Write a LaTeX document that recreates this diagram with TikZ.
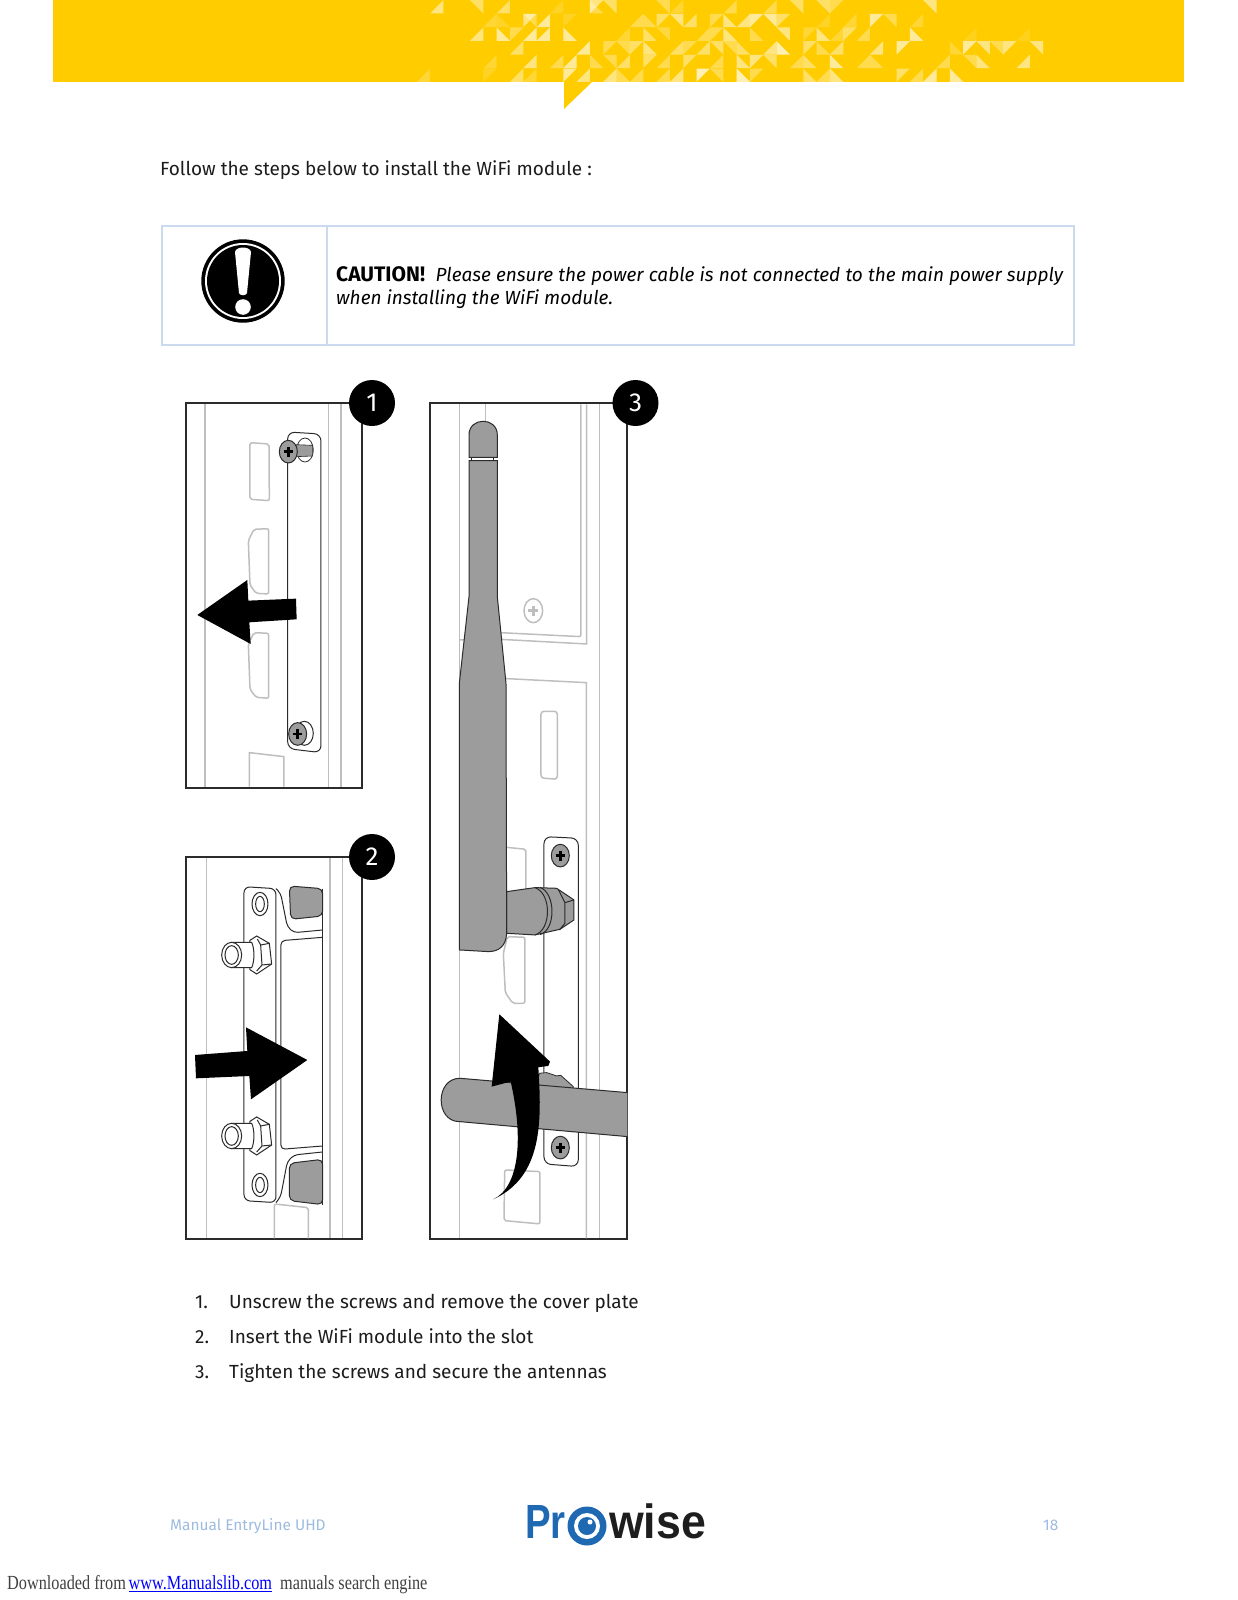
\documentclass[tikz,border=0pt]{standalone}
\usepackage{xcolor}
\usepackage{fontspec}
\setmainfont{Fira Sans}
\newfontfamily\logofont{Liberation Sans}
\newfontfamily\footfont{Liberation Serif}
\usetikzlibrary{positioning,calc}
\definecolor{bandyellow}{HTML}{FFCC00}
\definecolor{tablerule}{HTML}{CBDAEE}
\definecolor{footblue}{HTML}{9DBBE0}
\definecolor{logoblue}{HTML}{1F69B3}
\definecolor{logoink}{HTML}{1E1E1E}
\definecolor{ink}{HTML}{1C1C1C}
\definecolor{outline}{HTML}{2B2B2B}
\definecolor{backline}{HTML}{BEBEBE}
\definecolor{partgray}{HTML}{9C9C9C}
\definecolor{linkblue}{HTML}{0000FF}
\tikzset{
  bodytext/.style={anchor=base west,inner sep=0pt,text=ink,font=\fontsize{19}{22.5}\selectfont},
  foottext/.style={anchor=base west,inner sep=0pt,text=footblue,font=\fontsize{15.4}{18}\selectfont},
  logotext/.style={anchor=base west,inner sep=0pt,font=\logofont\bfseries\fontsize{48}{48}\selectfont},
  panelframe/.style={rectangle,draw=outline,line width=1.3pt,minimum width=#1,inner sep=0pt,outer sep=0pt},
  badge/.style={circle,fill=black,text=white,minimum size=46pt,inner sep=0pt,font=\fontsize{26}{26}\selectfont},
  backpart/.style={draw=backline,line width=1.5pt},
  frontpart/.style={draw=outline,line width=1pt},
  graypart/.style={draw=outline,line width=1pt,fill=partgray},
  bigarrow/.style={fill=black},
}
\newcommand{\drawscrew}[2]{
  \filldraw[graypart] (#1,#2) ellipse (27 and 34);
  \draw[line width=2.4pt,black] (#1-14,#2) -- (#1+14,#2) (#1,#2-15) -- (#1,#2+15);
}
\newcommand{\drawconnector}[1]{
  \filldraw[fill=white,draw=outline,line width=1pt] (240,#1-44) -- (260,#1-57) -- (298,#1-35) -- (305,#1+27) -- (260,#1+57) -- (240,#1+44) -- cycle;
  \draw[frontpart] (262,#1-48) -- (272,#1-30) -- (276,#1+30) -- (260,#1+48) (272,#1-30) -- (298,#1-35) (276,#1+30) -- (305,#1+27);
  \filldraw[fill=white,draw=outline,line width=1pt] (185,#1-38) -- (245,#1-38) .. controls (254,#1-20) and (254,#1+20) .. (245,#1+38) -- (185,#1+38) -- cycle;
  \filldraw[fill=white,draw=outline,line width=1pt] (185,#1) ellipse (30 and 38);
  \draw[frontpart] (185,#1) ellipse (20 and 28);
}
\begin{document}
\begin{tikzpicture}[x=1pt,y=-1pt]
  \useasboundingbox (0,0) rectangle (1237,1600);

  \fill[bandyellow] (53,0) rectangle (1184,82);
  \fill[bandyellow] (564,82) -- (592,82) -- (564,109) -- cycle;
  \foreach \col/\row/\ang/\op in {
    0/0/0/.5,3/0/90/.4,5/0/0/.4,9/0/0/.15,12/0/180/.5,12/0/270/.3,13/0/90/.4,17/0/90/.3,18/0/0/.2,22/0/0/.3,
    4/1/0/.2,5/1/270/.15,7/1/180/.5,7/1/90/.3,8/1/0/.6,10/1/180/.15,15/1/0/.3,16/1/270/.3,17/1/180/.4,18/1/90/.5,19/1/0/.4,21/1/180/.3,22/1/270/.5,
    3/2/0/.5,5/2/270/.6,6/2/180/.3,7/2/0/.6,8/2/0/.6,10/2/270/.6,14/2/0/.2,16/2/270/.4,17/2/90/.25,20/2/0/.3,21/2/180/.3,22/2/270/.5,
    6/3/0/.4,11/3/0/.6,13/3/180/.3,14/3/90/.3,15/3/180/.4,16/3/270/.5,18/3/0/.4,19/3/180/.3,20/3/0/.4,21/3/90/.4,22/3/90/.3,
    4/4/0/.2,7/4/0/.5,9/4/0/.3,10/4/0/.6,12/4/270/.3,13/4/90/.3,14/4/0/.4,16/4/180/.4,17/4/0/.3,19/4/180/.4,21/4/0/.3,23/4/270/.5,
    -1/5/0/.2,4/5/180/.15,6/5/0/.4,7/5/0/.2,10/5/180/.6,11/5/0/.5,13/5/0/.5,14/5/270/.3,15/5/0/.3,17/5/0/.3,18/5/0/.5,20/5/180/.7,21/5/90/.3,23/5/270/.4,
    25/0/0/.3,27/0/90/.4,29/0/90/.4,30/0/180/.3,37/0/90/.5,
    23/1/0/.5,24/1/180/.6,25/1/90/.6,26/1/180/.4,29/1/0/.15,31/1/0/.2,33/1/180/.6,34/1/90/.3,36/1/0/.2,
    24/2/270/.3,26/2/90/.5,28/2/180/.2,29/2/270/.5,30/2/0/.2,31/2/180/.4,32/2/0/.3,36/2/270/.6,40/2/0/.1,44/2/0/.1,
    23/3/270/.4,25/3/0/.5,26/3/270/.7,28/3/180/.4,29/3/270/.3,30/3/0/.4,33/3/0/.5,35/3/180/.6,39/3/270/.2,40/3/180/.6,41/3/90/.5,42/3/90/.3,43/3/180/.5,45/3/90/.5,
    24/4/180/.5,25/4/90/.4,27/4/0/.3,28/4/270/.4,30/4/270/.6,32/4/0/.3,33/4/270/.3,38/4/0/.3,40/4/90/.3,41/4/270/.5,44/4/0/.5,
    23/5/270/.5,24/5/180/.3,28/5/270/.4,29/5/0/.3,30/5/270/.5,35/5/180/.4,36/5/0/.3,37/5/0/.6,39/5/270/.6} {
    \fill[white,opacity=\op,shift={(430+13.33*\col+6.67,6.83+13.67*\row)},rotate=\ang] (-6.67,6.67) -- (6.67,6.67) -- (6.67,-6.67) -- cycle;
  }

  \node[bodytext] (intro) at (160,175.5) {Follow the steps below to install the WiFi module :};

  \draw[tablerule,line width=1.5pt] (162,226) rectangle (1074,345) (327,226) -- (327,345);
  \fill[black] (243,281) circle (41.7);
  \fill[white] (243,281) circle (38);
  \fill[black] (243,281) circle (36);
  \fill[white] (235,252) .. controls (236,246) and (250,246) .. (251,252) -- (247,293) .. controls (246,296) and (240,296) .. (239,293) -- cycle;
  \fill[white] (243,307) circle (7.8);
  \node[anchor=base west,inner sep=0pt,text=black,text width=727pt,align=justify,font=\fontsize{19}{22.5}\selectfont] (caution) at (336,281.5) {\hyphenpenalty=10000{\fontsize{21}{22.5}\selectfont\textbf{CAUTION!}}\ \ \textit{Please ensure the power cable is not connected to the main power supply\linebreak when installing the WiFi module.}};

  \node[panelframe=176pt,minimum height=385pt,anchor=north west] (frameA) at (186,403) {};
  \node[panelframe=176pt,minimum height=382pt,anchor=north west] (frameB) at (186,857) {};
  \node[panelframe=197pt,minimum height=836pt,anchor=north west] (frameC) at (430,403) {};

  \begin{scope}[shift={(170,370)},scale=0.3333]
    \foreach \xpos in {105,475,513} \draw[backpart] (\xpos,103) -- (\xpos,1250);
    \draw[backpart,rounded corners=2] (240,218) -- (297,222) -- (298,392) -- (240,388) -- cycle;
    \draw[backpart,rounded corners=2] (252,478) -- (296,476) -- (296,672) -- (258,670) -- (240,645) -- (235,512) -- cycle;
    \draw[backpart,rounded corners=2] (252,788) -- (296,790) -- (296,985) -- (258,982) -- (240,958) -- (235,822) -- cycle;
    \draw[backpart] (238,1250) -- (238,1148) -- (342,1160) -- (342,1250);
    \draw[frontpart,rounded corners=7] (353,186) -- (453,192) -- (453,1148) -- (353,1136) -- cycle;
    \filldraw[fill=white,draw=outline,line width=.8pt] (405,240) ellipse (25 and 36);
    \filldraw[graypart,line width=.6pt] (378,224) -- (428,226) -- (428,258) -- (378,260) -- cycle;
    \drawscrew{355}{245}
    \draw[frontpart] (403,1090) ellipse (27 and 36);
    \drawscrew{383}{1092}
    \fill[bigarrow] (82,735) -- (232,630) -- (235,692) -- (378,686) -- (380,748) -- (238,757) -- (242,822) -- cycle;
  \end{scope}

  \begin{scope}[shift={(170,830)},scale=0.3333]
    \foreach \xpos in {110,480,518} \draw[backpart] (\xpos,83) -- (\xpos,1225);
    \draw[backpart,rounded corners=2] (313,1225) -- (313,1122) -- (415,1133) -- (415,1225);
    \draw[frontpart,rounded corners=6] (318,176) -- (222,170) -- (222,1112) -- (318,1118) -- cycle;
    \filldraw[graypart,rounded corners=5] (358,168) -- (458,176) -- (458,258) -- (362,268) -- cycle;
    \filldraw[graypart,rounded corners=5] (358,1000) -- (458,988) -- (458,1124) -- (358,1112) -- cycle;
    \draw[frontpart,rounded corners=4] (318,176) -- (332,190) -- (352,290) -- (372,308) -- (458,300);
    \draw[frontpart,rounded corners=4] (458,322) -- (333,332) -- (333,958) -- (458,948);
    \draw[frontpart,rounded corners=4] (458,966) -- (372,975) -- (352,995) -- (332,1100) -- (318,1118);
    \draw[outline,line width=1.4pt] (458,176) -- (458,1124);
    \foreach \ypos in {222,1065} {
      \draw[frontpart] (270,\ypos) ellipse (24 and 35);
      \draw[frontpart] (270,\ypos) ellipse (13 and 23);
    }
    \drawconnector{375}
    \drawconnector{918}
    \fill[bigarrow] (75,675) -- (232,663) -- (228,592) -- (412,690) -- (243,808) -- (238,738) -- (78,745) -- cycle;
  \end{scope}

  \begin{scope}[shift={(420,370)},scale=0.3333]
    \foreach \xpos in {118,538} \draw[backpart] (\xpos,103) -- (\xpos,2605);
    \draw[backpart] (197,103) -- (197,160);
    \draw[backpart,rounded corners=2] (483,103) -- (483,800) -- (240,788);
    \draw[backpart] (500,103) -- (500,822) -- (240,808) -- (118,810);
    \draw[backpart] (240,925) -- (499,938) -- (499,2605);
    \draw[backpart] (340,722) ellipse (28 and 36);
    \draw[backline,line width=2.4pt] (325,722) -- (355,722) (340,707) -- (340,737);
    \draw[backpart,rounded corners=3] (363,1024) -- (412,1024) -- (412,1228) -- (363,1224) -- cycle;
    \draw[backpart,rounded corners=2] (258,1432) -- (318,1438) -- (318,1570);
    \draw[backpart,rounded corners=2] (262,1700) -- (315,1702) -- (315,1900) -- (278,1900) -- (256,1868) -- (250,1750) -- cycle;
    \draw[backpart,rounded corners=2] (254,2400) -- (360,2405) -- (360,2562) -- (252,2552) -- cycle;
    \draw[frontpart,rounded corners=7] (372,1400) -- (475,1405) -- (475,2390) -- (372,2382) -- cycle;
    \drawscrew{421}{1457}
    \drawscrew{421}{2333}
    \filldraw[graypart,line width=.8pt] (352,2140) -- (358,2110) -- (380,2108) -- (410,2118) -- (422,2116) -- (460,2150) -- (460,2170) -- (352,2170) -- cycle;
    \filldraw[graypart] (260,1565) -- (345,1553) -- (410,1555) -- (462,1590) -- (462,1650) -- (420,1678) -- (345,1695) -- (260,1690) -- cycle;
    \draw[frontpart] (345,1553) .. controls (395,1570) and (395,1680) .. (345,1695);
    \draw[frontpart] (360,1552) .. controls (408,1570) and (408,1680) .. (360,1694);
    \draw[frontpart] (415,1558) -- (435,1598) -- (435,1660) -- (418,1680) (435,1598) -- (462,1590);
    \filldraw[graypart] (147,262) -- (147,195) .. controls (147,140) and (232,140) .. (232,195) -- (232,262) -- cycle;
    \draw[frontpart] (155,264) -- (155,272) (222,264) -- (222,272);
    \filldraw[graypart] (147,272) -- (232,272) -- (232,680) -- (258,940) -- (260,1690) .. controls (258,1730) and (235,1745) .. (205,1745) -- (118,1740) -- (118,940) -- (147,680) -- cycle;
    \filldraw[graypart] (622,2168) -- (120,2125) .. controls (45,2125) and (45,2255) .. (118,2255) -- (622,2300);
    \fill[bigarrow] (238,1933) -- (390,2075) -- (385,2088) -- (355,2092) .. controls (365,2250) and (370,2420) .. (220,2488) .. controls (300,2450) and (310,2300) .. (272,2135) -- (215,2150) -- cycle;
  \end{scope}

  \node[badge] (badgeA) at ($(frameA.north east)+(10,0)$) {1};
  \node[badge] (badgeB) at ($(frameB.north east)+(10,0)$) {2};
  \node[badge] (badgeC) at ($(frameC.north east)+(8.5,0)$) {3};

  \node[bodytext] (numA) at (195,1308) {1.};
  \node[bodytext] (numB) at (195,1343) {2.};
  \node[bodytext] (numC) at (195,1378) {3.};
  \node[bodytext] (itemA) at (229,1308) {Unscrew the screws and remove the cover plate};
  \node[bodytext] (itemB) at (229,1343) {Insert the WiFi module into the slot};
  \node[bodytext] (itemC) at (229,1378) {Tighten the screws and secure the antennas};

  \node[foottext] (manual) at (170,1530) {Manual EntryLine UHD};
  \node[foottext] (pagenum) at (1043,1530) {18};
  \node[logotext,text=logoblue,xscale=0.8] (logoPr) at (525,1538) {Pr};
  \fill[logoblue] (587,1526) circle (19.5);
  \fill[white] (587,1526) circle (13);
  \fill[logoblue] (587,1526) circle (9);
  \fill[white] (590,1522) circle (2.5);
  \node[logotext,text=logoink,xscale=0.93] (logowise) at (609,1538) {wise};

  \node[anchor=base west,inner sep=0pt,text=black!75,xscale=0.813,font=\footfont\fontsize{20}{20}\selectfont] (download) at (7,1589) {Downloaded from\,{\color{linkblue}\underline{www.Manualslib.com}}\ \ manuals search engine};
\end{tikzpicture}
\end{document}
